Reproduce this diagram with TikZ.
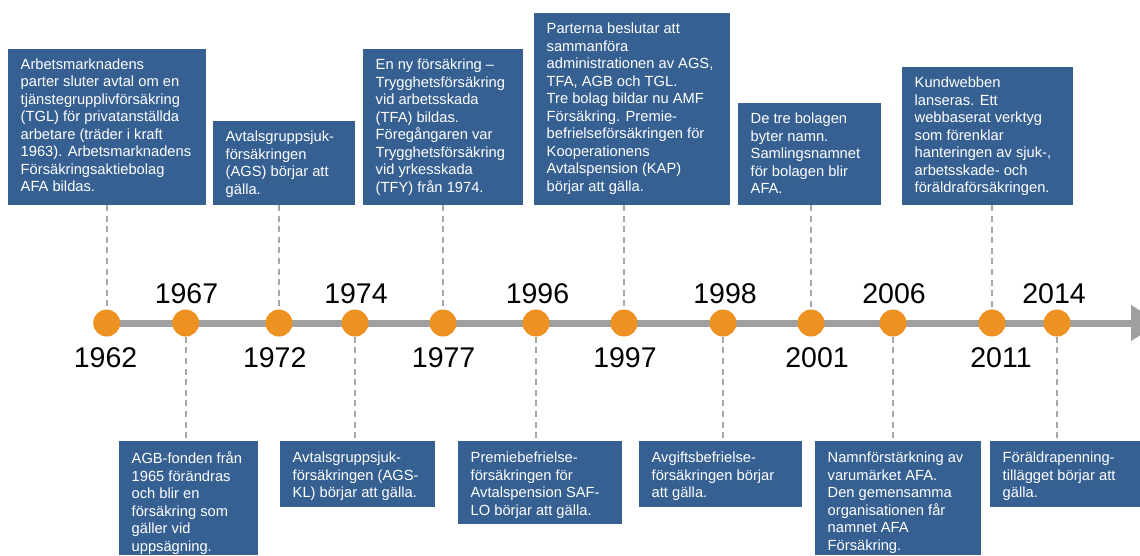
\documentclass[tikz,border=0pt]{standalone}
\usepackage{fontspec}
\setmainfont{Liberation Sans}
\usetikzlibrary{arrows.meta,backgrounds}
\definecolor{evblue}{RGB}{54,96,146}
\definecolor{evorange}{RGB}{237,145,33}
\definecolor{tlgray}{RGB}{160,160,160}
\definecolor{dashgray}{RGB}{166,166,166}
\begin{document}
\begin{tikzpicture}[x=1pt,y=-1pt,
  evbox/.style={fill=evblue,draw=none,inner sep=0pt,anchor=north west},
  evtext/.style={text=white,inner sep=0pt,anchor=north west,align=left,font=\fontsize{14.7}{17.5}\selectfont},
  dot/.style={circle,fill=evorange,draw=none,inner sep=0pt,minimum size=27pt},
  yearlbl/.style={anchor=base,inner sep=0pt,font=\fontsize{28.5}{30}\selectfont},
  conn/.style={draw=dashgray,line width=2pt,dash pattern=on 6pt off 4.6pt}]
\useasboundingbox (0,0) rectangle (1140,555);
\clip (0,0) rectangle (1140,555);

% circles
\node[dot] (c1962) at (106.7,323) {};
\node[dot] (c1967) at (185.7,323) {};
\node[dot] (c1972) at (279,323) {};
\node[dot] (c1974) at (355,323) {};
\node[dot] (c1977) at (443,323) {};
\node[dot] (c1996) at (536,323) {};
\node[dot] (c1997) at (624,323) {};
\node[dot] (c1998) at (723,323) {};
\node[dot] (c2001) at (811,323) {};
\node[dot] (c2006) at (893,323) {};
\node[dot] (c2011) at (992,323) {};
\node[dot] (c2014) at (1057,323) {};
\coordinate (tlend) at (1160,323);
\begin{scope}[on background layer]
\draw[tlgray,line width=7pt,-{Triangle[length=29pt,width=34pt]}] (c1962.center) -- (tlend);
\end{scope}

% year labels
\node[yearlbl] (y1962) at (105.6,367.3) {1962};
\node[yearlbl] (y1967) at (186.5,303.3) {1967};
\node[yearlbl] (y1972) at (274.7,367.3) {1972};
\node[yearlbl] (y1974) at (356,303.3) {1974};
\node[yearlbl] (y1977) at (443.6,367.3) {1977};
\node[yearlbl] (y1996) at (537.5,303.3) {1996};
\node[yearlbl] (y1997) at (625,367.3) {1997};
\node[yearlbl] (y1998) at (725,303.3) {1998};
\node[yearlbl] (y2001) at (817,367.3) {2001};
\node[yearlbl] (y2006) at (894,303.3) {2006};
\node[yearlbl] (y2011) at (1001,367.3) {2011};
\node[yearlbl] (y2014) at (1054,303.3) {2014};

% top boxes
\node[evbox,minimum width=198pt,minimum height=155.5pt] (b1962) at (8,49) {};
\node[evbox,minimum width=142pt,minimum height=83.5pt] (b1972) at (213,121) {};
\node[evbox,minimum width=160pt,minimum height=155.5pt] (b1977) at (363,49) {};
\node[evbox,minimum width=196pt,minimum height=191.5pt] (b1997) at (534,13) {};
\node[evbox,minimum width=143pt,minimum height=102pt] (b2001) at (738,103) {};
\node[evbox,minimum width=171pt,minimum height=138pt] (b2011) at (902,67) {};
% bottom boxes
\node[evbox,minimum width=139pt,minimum height=114pt] (b1967) at (119,441) {};
\node[evbox,minimum width=155pt,minimum height=66pt] (b1974) at (280,441) {};
\node[evbox,minimum width=164pt,minimum height=83pt] (b1996) at (458,441) {};
\node[evbox,minimum width=163pt,minimum height=66pt] (b1998) at (639,441) {};
\node[evbox,minimum width=166pt,minimum height=114pt] (b2006) at (815,441) {};
\node[evbox,minimum width=150pt,minimum height=66pt] (b2014) at (990,441) {};

% texts
\node[evtext] (t1962) at ([shift={(12.5pt,-9.5pt)}]b1962.north west) {Arbetsmarknadens\\parter sluter avtal om en\\tjänstegrupplivförsäkring\\(TGL) för privatanställda\\arbetare (träder i kraft\\1963). Arbetsmarknadens\\Försäkringsaktiebolag\\AFA bildas.};
\node[evtext] (t1972) at ([shift={(12.5pt,-9.7pt)}]b1972.north west) {Avtalsgruppsjuk-\\försäkringen\\(AGS) börjar att\\gälla.};
\node[evtext] (t1977) at ([shift={(12.5pt,-9.7pt)}]b1977.north west) {En ny försäkring –\\Trygghetsförsäkring\\vid arbetsskada\\(TFA) bildas.\\Föregångaren var\\Trygghetsförsäkring\\vid yrkesskada\\(TFY) från 1974.};
\node[evtext] (t1997) at ([shift={(12.5pt,-9.7pt)}]b1997.north west) {Parterna beslutar att\\sammanföra\\administrationen av AGS,\\TFA, AGB och TGL.\\Tre bolag bildar nu AMF\\Försäkring. Premie-\\befrielseförsäkringen för\\Kooperationens\\Avtalspension (KAP)\\börjar att gälla.};
\node[evtext] (t2001) at ([shift={(12.5pt,-9.7pt)}]b2001.north west) {De tre bolagen\\byter namn.\\Samlingsnamnet\\för bolagen blir\\AFA.};
\node[evtext] (t2011) at ([shift={(12.5pt,-9.7pt)}]b2011.north west) {Kundwebben\\lanseras. Ett\\webbaserat verktyg\\som förenklar\\hanteringen av sjuk-,\\arbetsskade- och\\föräldraförsäkringen.};
\node[evtext] (t1967) at ([shift={(12.5pt,-10.7pt)}]b1967.north west) {AGB-fonden från\\1965 förändras\\och blir en\\försäkring som\\gäller vid\\uppsägning.};
\node[evtext] (t1974) at ([shift={(12.5pt,-10.7pt)}]b1974.north west) {Avtalsgruppsjuk-\\försäkringen (AGS-\\KL) börjar att gälla.};
\node[evtext] (t1996) at ([shift={(12.5pt,-10.7pt)}]b1996.north west) {Premiebefrielse-\\försäkringen för\\Avtalspension SAF-\\LO börjar att gälla.};
\node[evtext] (t1998) at ([shift={(12.5pt,-10.7pt)}]b1998.north west) {Avgiftsbefrielse-\\försäkringen börjar\\att gälla.};
\node[evtext] (t2006) at ([shift={(12.5pt,-10.7pt)}]b2006.north west) {Namnförstärkning av\\varumärket AFA.\\Den gemensamma\\organisationen får\\namnet AFA\\Försäkring.};
\node[evtext] (t2014) at ([shift={(12.5pt,-10.7pt)}]b2014.north west) {Föräldrapenning-\\tillägget börjar att\\gälla.};

% connectors top
\draw[conn] (b1962.south -| c1962) -- (c1962);
\draw[conn] (b1972.south -| c1972) -- (c1972);
\draw[conn] (b1977.south -| c1977) -- (c1977);
\draw[conn] (b1997.south -| c1997) -- (c1997);
\draw[conn] (b2001.south -| c2001) -- (c2001);
\draw[conn] (b2011.south -| c2011) -- (c2011);
% connectors bottom
\draw[conn] (c1967) -- (b1967.north -| c1967);
\draw[conn] (c1974) -- (b1974.north -| c1974);
\draw[conn] (c1996) -- (b1996.north -| c1996);
\draw[conn] (c1998) -- (b1998.north -| c1998);
\draw[conn] (c2006) -- (b2006.north -| c2006);
\draw[conn] (c2014) -- (b2014.north -| c2014);
\end{tikzpicture}
\end{document}
